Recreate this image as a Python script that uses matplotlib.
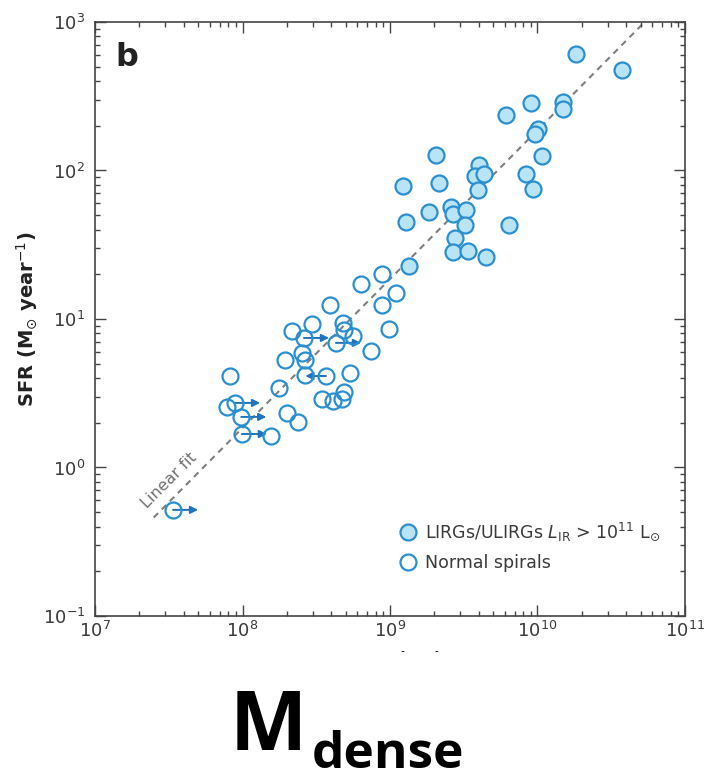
import numpy as np
import matplotlib
matplotlib.use("Agg")
import matplotlib.pyplot as plt
from matplotlib.lines import Line2D
from matplotlib.patches import Rectangle

# LIRGs / ULIRGs (filled circles): dense gas mass (Msun), SFR (Msun/yr)
lirg_mass = [1.82e10, 3.74e10, 9.0e9, 1.49e10, 1.49e10, 6.1e9, 1.01e10, 9.6e9,
             1.07e10, 2.05e9, 4.0e9, 3.77e9, 4.34e9, 8.36e9, 1.22e9, 2.15e9,
             3.95e9, 9.3e9, 2.6e9, 2.67e9, 3.27e9, 1.84e9, 1.28e9, 3.22e9,
             6.4e9, 2.76e9, 2.67e9, 3.38e9, 4.48e9, 1.35e9]
lirg_sfr = [610, 475, 285, 289, 260, 237, 190, 176,
            125, 127, 109, 92, 94.6, 94.6, 78.6, 82.5,
            74, 75, 56.8, 51, 54, 52.6, 45, 43,
            43, 35, 28.3, 28.7, 26.2, 22.7]

# normal spirals (open circles)
spiral_mass = [8.8e8, 6.4e8, 1.10e9, 8.8e8, 3.9e8, 9.8e8, 2.96e8, 4.8e8,
               2.17e8, 2.61e8, 4.87e8, 5.6e8, 4.3e8, 7.4e8, 2.53e8, 2.65e8,
               1.94e8, 2.65e8, 3.68e8, 5.36e8, 8.2e7, 1.77e8, 3.46e8, 4.1e8,
               4.7e8, 4.87e8, 7.85e7, 8.9e7, 9.8e7, 2.0e8, 2.38e8, 9.9e7,
               1.56e8, 3.38e7]
spiral_sfr = [20.1, 17.2, 15.0, 12.4, 12.4, 8.57, 9.25, 9.4,
              8.3, 7.45, 8.43, 7.7, 6.9, 6.1, 5.9, 5.3,
              5.3, 4.2, 4.13, 4.33, 4.13, 3.43, 2.89, 2.8,
              2.89, 3.22, 2.55, 2.72, 2.19, 2.33, 2.02, 1.68,
              1.63, 0.518]
# limit arrows: +1 lower limit (points right), -1 points left, 0 none
spiral_limit = [0, 0, 0, 0, 0, 0, 0, 0,
                0, 1, 0, 0, 1, 0, 0, 0,
                0, 0, -1, 0, 0, 0, 0, 0,
                0, 0, 0, 1, 1, 0, 0, 1,
                0, 1]

fit_mass = [2.5e7, 5.2e10]
fit_sfr = [0.46, 975]

edge_blue = "#2a8fd0"
fill_blue = "#b8e4f6"
arrow_blue = "#1f74bd"
axis_grey = "#444444"
text_grey = "#3a3a3a"

fig = plt.figure(figsize=(7.08, 7.81), dpi=100)
ax = fig.add_axes([0.1342, 0.2113, 0.8333, 0.7606])
ax.set_xscale("log")
ax.set_yscale("log")
ax.set_xlim(1e7, 1e11)
ax.set_ylim(0.1, 1000)

# linear fit
ax.plot(fit_mass, fit_sfr, color="#7f7f7f", lw=1.5, ls=(0, (3, 2.5)), zorder=1)
ax.text(3.2e7, 0.82, "Linear fit", rotation=45, rotation_mode="anchor",
        ha="center", va="center", fontsize=11.5, color="#707070")

# arrows for limits
for m, s, lim in zip(spiral_mass, spiral_sfr, spiral_limit):
    if lim == 0:
        continue
    end = m * 10 ** (0.17 if lim > 0 else -0.14)
    ax.annotate("", xy=(end, s), xytext=(m, s),
                arrowprops=dict(arrowstyle="-|>", color=arrow_blue, lw=1.4,
                                mutation_scale=11, shrinkA=0, shrinkB=0),
                zorder=2)

ax.plot(spiral_mass, spiral_sfr, "o", ls="none", ms=11.5, mfc="none",
        mec=edge_blue, mew=1.6, zorder=3)
ax.plot(lirg_mass, lirg_sfr, "o", ls="none", ms=11.5, mfc=fill_blue,
        mec=edge_blue, mew=1.6, zorder=4)

# legend
handles = [
    Line2D([], [], marker="o", ls="none", ms=11.5, mfc=fill_blue, mec=edge_blue, mew=1.6),
    Line2D([], [], marker="o", ls="none", ms=11.5, mfc="white", mec=edge_blue, mew=1.6),
]
labels = [r"LIRGs/ULIRGs $L_{\mathrm{IR}}$ > 10$^{11}$ L$_{\odot}$", "Normal spirals"]
leg = ax.legend(handles, labels, loc="center left", bbox_to_anchor=(0.515, 0.117),
                frameon=False, fontsize=12.5, handlelength=1.0, handletextpad=0.5,
                labelspacing=0.62, borderpad=0, borderaxespad=0)
for t in leg.get_texts():
    t.set_color(text_grey)

# panel letter
ax.text(0.034, 0.966, "b", transform=ax.transAxes, ha="left", va="top",
        fontsize=23, fontweight="bold", color="#222222")

ax.tick_params(which="both", direction="in", top=True, right=True,
               color=axis_grey, width=1.0, labelsize=13, labelcolor=text_grey)
ax.tick_params(which="major", length=8)
ax.tick_params(which="minor", length=3.6)
ax.tick_params(axis="y", pad=7)
ax.tick_params(axis="x", pad=3.5)
for sp in ax.spines.values():
    sp.set_color(axis_grey)
    sp.set_linewidth(1.2)

ax.set_ylabel(r"SFR (M$_{\odot}$ year$^{-1}$)", fontsize=14, fontweight="bold",
              color="#222222", labelpad=2)
ax.set_xlabel(r"M$_{\mathrm{dense}}$ (M$_{\odot}$)", fontsize=12.5, fontweight="bold",
              color="#222222", labelpad=6)

# white box over the bottom of the figure, then the big caption
fig.patches.append(Rectangle((0, 0), 1, 1 - 652 / 781, transform=fig.transFigure,
                             facecolor="white", edgecolor="none", zorder=10))
fig.text(230 / 708, 1 - 750 / 781, "M", fontsize=59, fontweight="bold",
         family="Open Sans", ha="left", va="baseline", zorder=11)
fig.text(312 / 708, 1 - 768 / 781, "dense", fontsize=37, fontweight="bold",
         family="Open Sans", ha="left", va="baseline", zorder=11)

fig.savefig("out.png", dpi=100)
